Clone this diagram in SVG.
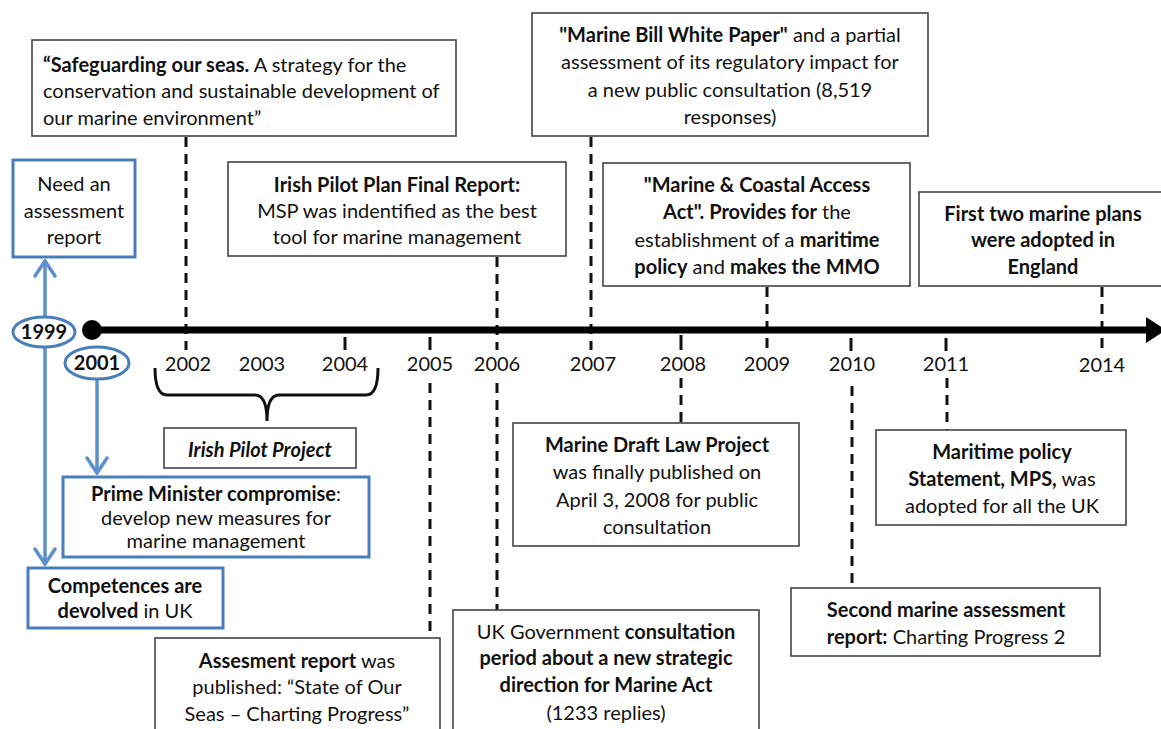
<svg xmlns="http://www.w3.org/2000/svg" width="1161" height="729" viewBox="0 0 1161 729">
<style>
text{font-family:Lato,"Open Sans","Liberation Sans",sans-serif;font-size:20px;fill:#111}
.c{text-anchor:middle}
.b{font-weight:bold}
.box{fill:#fff;stroke:#444;stroke-width:1.6}
.bbox{fill:#fff;stroke:#4a7ebb;stroke-width:3}
.dash{stroke:#111;stroke-width:3;stroke-dasharray:10,7;fill:none}
.tick{stroke:#111;stroke-width:3}
.barrow{stroke:#5b90cc;stroke-width:3.5;fill:none;stroke-linecap:round;stroke-linejoin:round}
.ell{fill:#fff;stroke:#4a7ebb;stroke-width:3}
</style>
<rect width="1161" height="729" fill="#fff"/>

<g id="connectors">
  <line class="dash" x1="186" y1="137" x2="186" y2="350"/>
  <line class="dash" x1="497" y1="257" x2="497" y2="350"/>
  <line class="dash" x1="591" y1="137" x2="591" y2="350"/>
  <line class="dash" x1="767" y1="287" x2="767" y2="348"/>
  <line class="dash" x1="1102" y1="287" x2="1102" y2="348"/>
  <line class="tick" x1="345" y1="337" x2="345" y2="350"/>
  <line class="tick" x1="430" y1="337" x2="430" y2="350"/>
  <line class="tick" x1="681" y1="335" x2="681" y2="350"/>
  <line class="tick" x1="851" y1="338" x2="851" y2="351"/>
  <line class="tick" x1="946" y1="338" x2="946" y2="351"/>
  <line class="dash" x1="430" y1="383" x2="430" y2="638"/>
  <line class="dash" x1="497" y1="383" x2="497" y2="610"/>
  <line class="dash" x1="681" y1="378" x2="681" y2="423"/>
  <line class="dash" x1="852" y1="386" x2="852" y2="588"/>
  <line class="dash" x1="947" y1="378" x2="947" y2="430"/>
  <path d="M155,368 Q155,395 167,395 L255,395 Q267,395 267,421 Q267,395 279,395 L366,395 Q378,395 378,368" fill="none" stroke="#111" stroke-width="3"/>
  <line class="barrow" x1="45" y1="317" x2="45" y2="261"/>
  <polyline class="barrow" points="35,276 45,261 55,276"/>
  <line class="barrow" x1="45" y1="347" x2="45" y2="564"/>
  <polyline class="barrow" points="35,549 45,564 55,549"/>
  <line class="barrow" x1="97" y1="379" x2="97" y2="473"/>
  <polyline class="barrow" points="87,458 97,473 107,458"/>
</g>

<g id="timeline">
  <line x1="92" y1="330" x2="1150" y2="330" stroke="#000" stroke-width="7"/>
  <circle cx="92" cy="330" r="10" fill="#000"/>
  <polygon points="1146,317 1166,330 1146,343" fill="#000"/>
  <text class="c" x="188" y="371">2002</text>
  <text class="c" x="262" y="371">2003</text>
  <text class="c" x="345" y="371">2004</text>
  <text class="c" x="430" y="371">2005</text>
  <text class="c" x="497" y="371">2006</text>
  <text class="c" x="593" y="371">2007</text>
  <text class="c" x="683" y="371">2008</text>
  <text class="c" x="767" y="371">2009</text>
  <text class="c" x="852" y="371">2010</text>
  <text class="c" x="946" y="371">2011</text>
  <text class="c" x="1102" y="372">2014</text>
</g>

<g id="y1999">
  <ellipse class="ell" cx="44" cy="332" rx="31" ry="15"/>
  <text class="c b" x="44" y="339">1999</text>
</g>
<g id="y2001">
  <ellipse class="ell" cx="97" cy="363" rx="32" ry="16"/>
  <text class="c b" x="97" y="370">2001</text>
</g>

<g id="safeguarding">
  <rect class="box" x="32" y="40" width="424" height="96"/>
  <text x="43" y="72"><tspan class="b">“Safeguarding our seas.</tspan> A strategy for the</text>
  <text x="43" y="98">conservation and sustainable development of</text>
  <text x="43" y="125">our marine environment”</text>
</g>

<g id="need">
  <rect class="bbox" x="13" y="160" width="122" height="97"/>
  <text class="c" x="74" y="191">Need an</text>
  <text class="c" x="74" y="218">assessment</text>
  <text class="c" x="74" y="244">report</text>
</g>

<g id="irishfinal">
  <rect class="box" x="228" y="162" width="338" height="94"/>
  <text class="c b" x="397" y="192">Irish Pilot Plan Final Report:</text>
  <text class="c" x="397" y="218">MSP was indentified as the best</text>
  <text class="c" x="397" y="244">tool for marine management</text>
</g>

<g id="whitepaper">
  <rect class="box" x="532" y="13" width="396" height="123"/>
  <text class="c" x="730" y="42"><tspan class="b">"Marine Bill White Paper"</tspan> and a partial</text>
  <text class="c" x="730" y="69">assessment of its regulatory impact for</text>
  <text class="c" x="730" y="97">a new public consultation (8,519</text>
  <text class="c" x="730" y="124">responses)</text>
</g>

<g id="coastal">
  <rect class="box" x="603" y="163" width="307" height="123"/>
  <text class="c b" x="757" y="192">"Marine &amp; Coastal Access</text>
  <text class="c" x="757" y="219"><tspan class="b">Act". Provides for</tspan> the</text>
  <text class="c" x="757" y="247">establishment of a <tspan class="b">maritime</tspan></text>
  <text class="c" x="757" y="274"><tspan class="b">policy</tspan> and <tspan class="b">makes the MMO</tspan></text>
</g>

<g id="firsttwo">
  <rect class="box" x="919" y="192" width="250" height="94"/>
  <text class="c b" x="1043" y="221">First two marine plans</text>
  <text class="c b" x="1043" y="247">were adopted in</text>
  <text class="c b" x="1043" y="274">England</text>
</g>

<g id="irishproject">
  <rect class="box" x="164" y="428" width="192" height="40"/>
  <text class="c b" x="260" y="457" font-style="italic">Irish Pilot Project</text>
</g>

<g id="primeminister">
  <rect class="bbox" x="63" y="477" width="306" height="80"/>
  <text class="c" x="216" y="501"><tspan class="b">Prime Minister compromise</tspan>:</text>
  <text class="c" x="216" y="525">develop new measures for</text>
  <text class="c" x="216" y="548">marine management</text>
</g>

<g id="competences">
  <rect class="bbox" x="28" y="568" width="195" height="60"/>
  <text class="c b" x="125" y="593">Competences are</text>
  <text class="c" x="125" y="618"><tspan class="b">devolved</tspan> in UK</text>
</g>

<g id="assessment">
  <rect class="box" x="155" y="638" width="285" height="100"/>
  <text class="c" x="297" y="668"><tspan class="b">Assesment report</tspan> was</text>
  <text class="c" x="297" y="694">published: “State of Our</text>
  <text class="c" x="297" y="721">Seas – Charting Progress”</text>
</g>

<g id="ukgov">
  <rect class="box" x="453" y="610" width="306" height="130"/>
  <text class="c" x="606" y="639">UK Government <tspan class="b">consultation</tspan></text>
  <text class="c b" x="606" y="665">period about a new strategic</text>
  <text class="c b" x="606" y="692">direction for Marine Act</text>
  <text class="c" x="606" y="720">(1233 replies)</text>
</g>

<g id="draftlaw">
  <rect class="box" x="513" y="423" width="286" height="123"/>
  <text class="c b" x="657" y="452">Marine Draft Law Project</text>
  <text class="c" x="657" y="479">was finally published on</text>
  <text class="c" x="657" y="507">April 3, 2008 for public</text>
  <text class="c" x="657" y="534">consultation</text>
</g>

<g id="mps">
  <rect class="box" x="876" y="430" width="250" height="95"/>
  <text class="c b" x="1002" y="459">Maritime policy</text>
  <text class="c" x="1002" y="486"><tspan class="b">Statement, MPS,</tspan> was</text>
  <text class="c" x="1002" y="513">adopted for all the UK</text>
</g>

<g id="second">
  <rect class="box" x="791" y="588" width="309" height="68"/>
  <text class="c b" x="946" y="617">Second marine assessment</text>
  <text class="c" x="946" y="644"><tspan class="b">report:</tspan> Charting Progress 2</text>
</g>
</svg>
